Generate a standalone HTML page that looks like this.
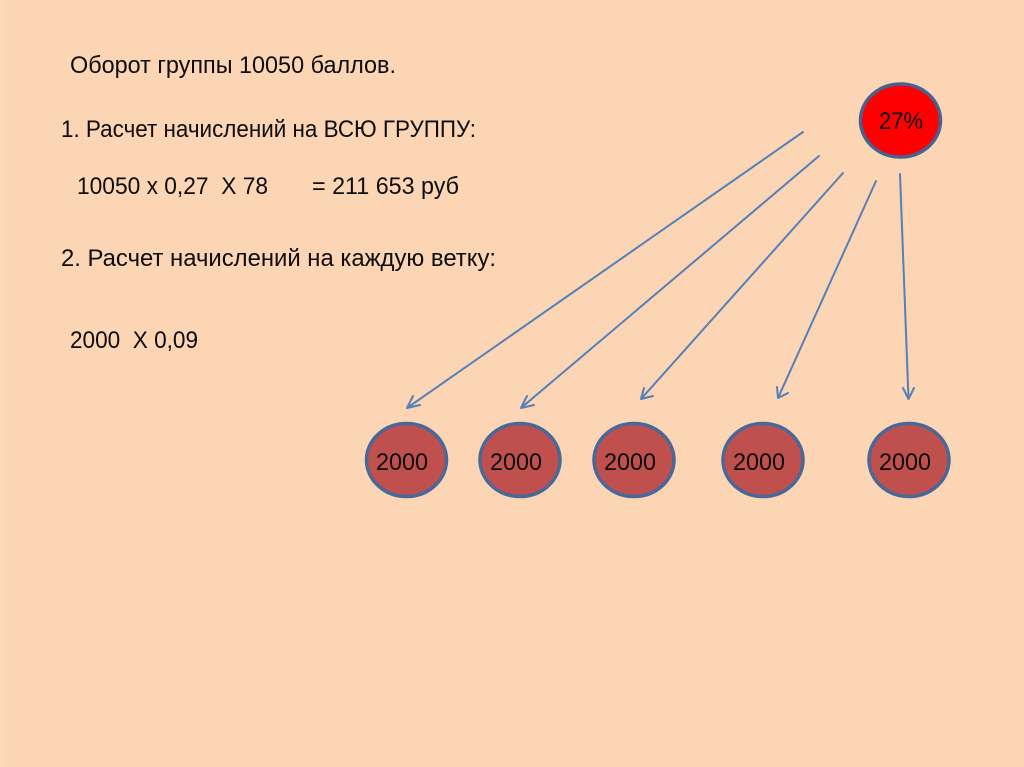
<!DOCTYPE html>
<html>
<head>
<meta charset="utf-8">
<style>
html,body{margin:0;padding:0;background:#fcd5b5;}
svg{display:block;}
text{font-family:"Liberation Sans",sans-serif;fill:#0d0d0d;font-size:24px;}
</style>
</head>
<body>
<svg width="1024" height="767" viewBox="0 0 1024 767" xmlns="http://www.w3.org/2000/svg">
<rect width="1024" height="767" fill="#fcd5b5"/>
<rect x="0" y="0" width="1" height="767" fill="#fbdcb8"/>
<rect x="3" y="0" width="1" height="767" fill="#fbdab8"/>
<text x="70" y="73" textLength="326" lengthAdjust="spacingAndGlyphs">Оборот группы 10050 баллов.</text>
<text x="61" y="137" textLength="415" lengthAdjust="spacingAndGlyphs">1. Расчет начислений на ВСЮ ГРУППУ:</text>
<text x="77" y="194" textLength="191" lengthAdjust="spacingAndGlyphs" xml:space="preserve">10050 х 0,27  Х 78</text>
<text x="312" y="194" textLength="147" lengthAdjust="spacingAndGlyphs">= 211 653 руб</text>
<text x="61" y="266" textLength="435" lengthAdjust="spacingAndGlyphs">2. Расчет начислений на каждую ветку:</text>
<text x="70" y="348" textLength="128" lengthAdjust="spacingAndGlyphs" xml:space="preserve">2000  Х 0,09</text>

<g fill="none" stroke="#5580b8" stroke-width="2" stroke-linecap="round" stroke-linejoin="round">
<path d="M803 132L407 408M413 396L407 408L420 405"/>
<path d="M819 156L521 408M527 396L521 408L534 405"/>
<path d="M843 173L641 399M644 388L641 399L653 396"/>
<path d="M876 181L778 398M777 387L778 398L788 393"/>
<path d="M900 174L908.5 399M903 388L908.5 399L914 388"/>
</g>

<ellipse cx="900.5" cy="120.5" rx="40" ry="36.5" fill="#fe0000" stroke="#48618f" stroke-width="3.5"/>
<text x="879" y="129" textLength="44" lengthAdjust="spacingAndGlyphs">27%</text>

<g fill="#c0504d" stroke="#48689a" stroke-width="3.5">
<ellipse cx="406.5" cy="460" rx="40" ry="36.5"/>
<ellipse cx="520" cy="460" rx="40" ry="36.5"/>
<ellipse cx="634" cy="460" rx="40" ry="36.5"/>
<ellipse cx="763" cy="460" rx="40" ry="36.5"/>
<ellipse cx="909" cy="460" rx="40" ry="36.5"/>
</g>
<text x="376" y="470" textLength="52" lengthAdjust="spacingAndGlyphs">2000</text>
<text x="490" y="470" textLength="52" lengthAdjust="spacingAndGlyphs">2000</text>
<text x="604" y="470" textLength="52" lengthAdjust="spacingAndGlyphs">2000</text>
<text x="733" y="470" textLength="52" lengthAdjust="spacingAndGlyphs">2000</text>
<text x="879" y="470" textLength="52" lengthAdjust="spacingAndGlyphs">2000</text>
</svg>
</body>
</html>
